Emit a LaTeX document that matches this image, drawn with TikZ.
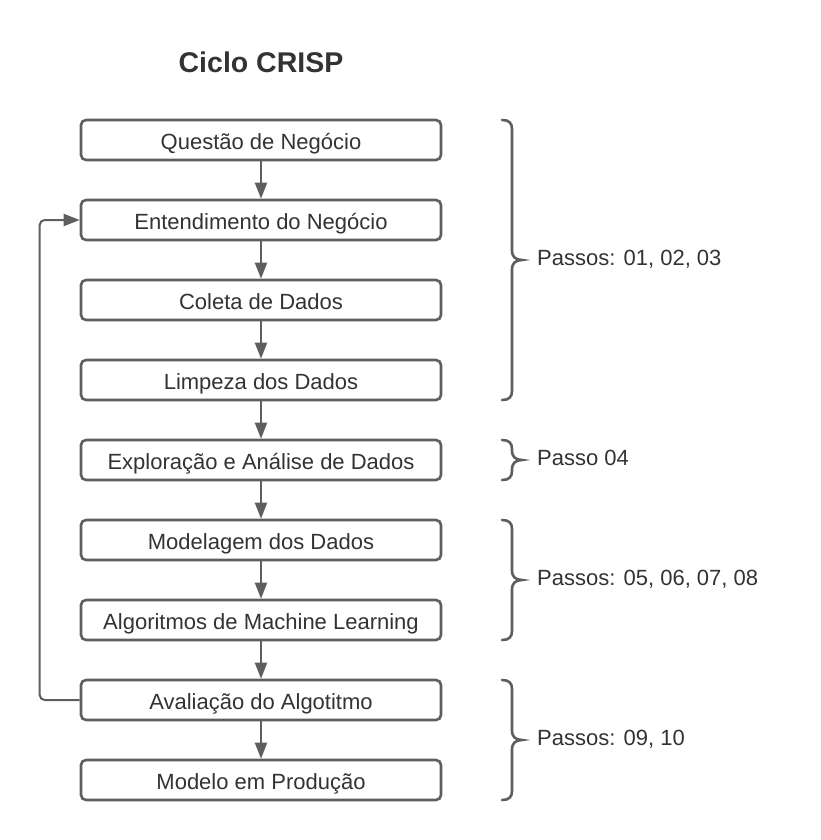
\documentclass[tikz,border=0pt]{standalone}
\usepackage{fontspec}
\setmainfont{Liberation Sans}
\usetikzlibrary{arrows.meta}
\definecolor{linegray}{HTML}{5E5E5E}
\definecolor{textgray}{HTML}{333333}
\newcommand\crispbrace[3]{%
  \draw[bracestyle] (502,#1) .. controls (509,#1) and (512,{#1+3}) .. (512,{#1+9})
    -- (512,{#2-9}) .. controls (512,{#2-4}) and (515,#2) .. (522,#2)
    .. controls (515,#2) and (512,{#2+4}) .. (512,{#2+9})
    -- (512,{#3-9}) .. controls (512,{#3-3}) and (509,#3) .. (502,#3);}
\begin{document}
\begin{tikzpicture}[x=1pt,y=-1pt,
  stepbox/.style={draw=linegray, line width=2.6pt, rounded corners=5pt, fill=white,
    minimum width=360pt, minimum height=40pt, inner sep=0pt,
    text height=20pt, text depth=1pt, text=textgray,
    font=\fontsize{22}{26}\selectfont},
  conn/.style={draw=linegray, line width=2pt, -{Triangle[length=16pt,width=12pt]}},
  bracestyle/.style={draw=linegray, line width=2.6pt, line cap=round},
  bracelabel/.style={anchor=base west, inner sep=0pt, text=textgray,
    font=\fontsize{22}{26}\selectfont},
  titlestyle/.style={anchor=base, inner sep=0pt, text=textgray,
    font=\fontsize{28.5}{32}\selectfont\bfseries}]
\useasboundingbox (0,0) rectangle (821,840);
\node[titlestyle] (title) at (261,73) {Ciclo CRISP};
\node[stepbox] (b1) at (261,140) {Questão de Negócio};
\node[stepbox] (b2) at (261,220) {Entendimento do Negócio};
\node[stepbox] (b3) at (261,300) {Coleta de Dados};
\node[stepbox] (b4) at (261,380) {Limpeza dos Dados};
\node[stepbox] (b5) at (261,460) {Exploração e Análise de Dados};
\node[stepbox] (b6) at (261,540) {Modelagem dos Dados};
\node[stepbox] (b7) at (261,620) {Algoritmos de Machine Learning};
\node[stepbox] (b8) at (261,700) {Avaliação do Algotitmo};
\node[stepbox] (b9) at (261,780) {Modelo em Produção};
\foreach \a/\b in {b1/b2,b2/b3,b3/b4,b4/b5,b5/b6,b6/b7,b7/b8,b8/b9}
  \draw[conn] (\a.south) -- (\b.north);
\draw[conn, rounded corners=5pt] (b8.west) -- ++(-40,0) |- (b2.west);
\crispbrace{120}{260}{400}
\crispbrace{440}{460}{480}
\crispbrace{520}{580}{640}
\crispbrace{680}{740}{800}
\node[bracelabel] (l1) at (537,265.5) {Passos: 01, 02, 03};
\node[bracelabel] (l2) at (537,465.5) {Passo 04};
\node[bracelabel] (l3) at (537,585.5) {Passos: 05, 06, 07, 08};
\node[bracelabel] (l4) at (537,745.5) {Passos: 09, 10};
\end{tikzpicture}
\end{document}
